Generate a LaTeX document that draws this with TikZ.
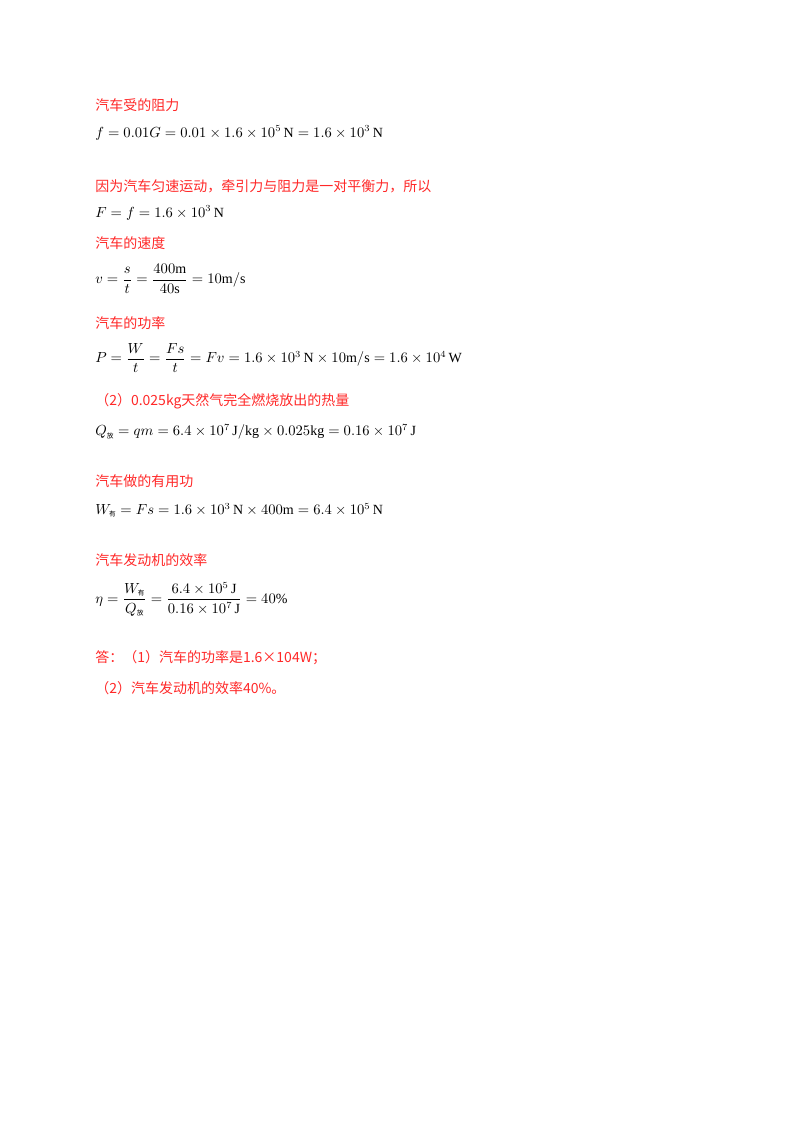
\documentclass[tikz,border=0pt]{standalone}
\usepackage{amsmath}
\usepackage{fontspec}
\setmainfont{Liberation Serif}
\newfontfamily\cjk{Noto Sans CJK SC}
\definecolor{ansred}{RGB}{255,40,40}
\tikzset{
  hint/.style={anchor=west,inner sep=0pt,text=ansred,font=\cjk\fontsize{10.5}{12}\selectfont},
  calc/.style={anchor=west,inner sep=0pt,font=\fontsize{10.5}{12}\selectfont}
}
\newcommand{\sub}[1]{\mbox{\cjk\fontsize{5}{6}\selectfont #1}}
\begin{document}
\begin{tikzpicture}[x=0.75pt,y=-0.75pt]
\useasboundingbox (0,0) rectangle (800,1132);
  \node[hint] (h1) at (95,105) {汽车受的阻力};
  \node[calc] (c1) at (95,133) {$f=0.01G=0.01\times1.6\times10^{5}\,\mathrm{N}=1.6\times10^{3}\,\mathrm{N}$};
  \node[hint] (h2) at (95,186) {因为汽车匀速运动，牵引力与阻力是一对平衡力，所以};
  \node[calc] (c2) at (95,213) {$F=f=1.6\times10^{3}\,\mathrm{N}$};
  \node[hint] (h3) at (95,243) {汽车的速度};
  \node[calc] (c3) at (95,279) {$v=\dfrac{s}{t}=\dfrac{400\mathrm{m}}{40\mathrm{s}}=10\mathrm{m/s}$};
  \node[hint] (h4) at (95,323) {汽车的功率};
  \node[calc] (c4) at (95,358) {$P=\dfrac{W}{t}=\dfrac{Fs}{t}=Fv=1.6\times10^{3}\,\mathrm{N}\times10\mathrm{m/s}=1.6\times10^{4}\,\mathrm{W}$};
  \node[hint] (h5) at (95,401) {（2）0.025kg天然气完全燃烧放出的热量};
  \node[calc] (c5) at (95,432) {$Q_{\sub{放}}=qm=6.4\times10^{7}\,\mathrm{J/kg}\times0.025\mathrm{kg}=0.16\times10^{7}\,\mathrm{J}$};
  \node[hint] (h6) at (95,481) {汽车做的有用功};
  \node[calc] (c6) at (95,510) {$W_{\sub{有}}=Fs=1.6\times10^{3}\,\mathrm{N}\times400\mathrm{m}=6.4\times10^{5}\,\mathrm{N}$};
  \node[hint] (h7) at (95,560) {汽车发动机的效率};
  \node[calc] (c7) at (95,599) {$\eta=\dfrac{W_{\sub{有}}}{Q_{\sub{放}}}=\dfrac{6.4\times10^{5}\,\mathrm{J}}{0.16\times10^{7}\,\mathrm{J}}=40\%$};
  \node[hint] (h8) at (95,658) {答：（1）汽车的功率是1.6×104W；};
  \node[hint] (h9) at (95,688) {（2）汽车发动机的效率40\%。};
\end{tikzpicture}
\end{document}
